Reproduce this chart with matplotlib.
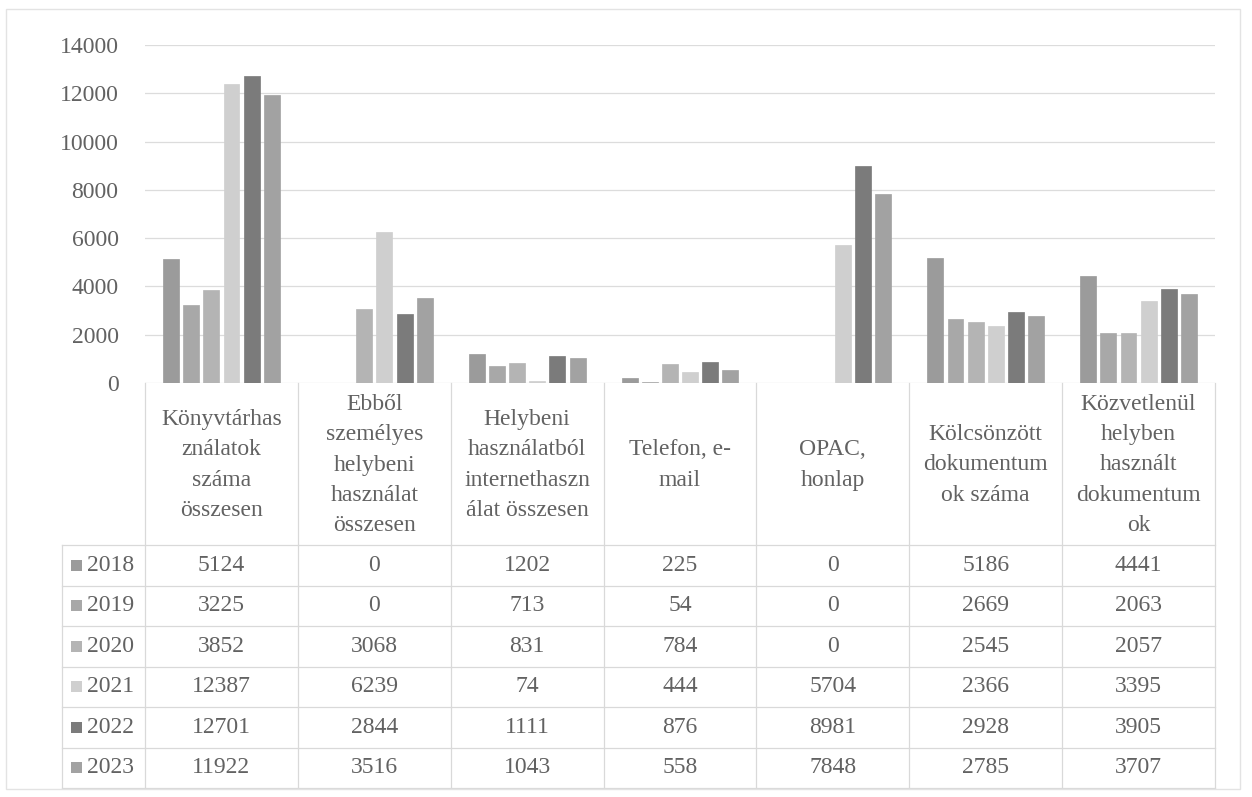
import matplotlib
matplotlib.use("Agg")
import matplotlib.pyplot as plt
from matplotlib.patches import Rectangle
from matplotlib.lines import Line2D

years = ["2018", "2019", "2020", "2021", "2022", "2023"]
categories = [
    "Könyvtárhasználatok száma összesen",
    "Ebből személyes helybeni használat összesen",
    "Helybeni használatból internethasználat összesen",
    "Telefon, e-mail",
    "OPAC, honlap",
    "Kölcsönzött dokumentumok száma",
    "Közvetlenül helyben használt dokumentumok",
]
header_labels = [
    "Könyvtárhas\nználatok\nszáma\nösszesen",
    "Ebből\nszemélyes\nhelybeni\nhasználat\nösszesen",
    "Helybeni\nhasználatból\ninternethaszn\nálat összesen",
    "Telefon, e-\nmail",
    "OPAC,\nhonlap",
    "Kölcsönzött\ndokumentum\nok száma",
    "Közvetlenül\nhelyben\nhasznált\ndokumentum\nok",
]
v2018 = [5124, 0, 1202, 225, 0, 5186, 4441]
v2019 = [3225, 0, 713, 54, 0, 2669, 2063]
v2020 = [3852, 3068, 831, 784, 0, 2545, 2057]
v2021 = [12387, 6239, 74, 444, 5704, 2366, 3395]
v2022 = [12701, 2844, 1111, 876, 8981, 2928, 3905]
v2023 = [11922, 3516, 1043, 558, 7848, 2785, 3707]
series = [v2018, v2019, v2020, v2021, v2022, v2023]
colors = ["#9b9b9b", "#a8a8a8", "#b4b4b4", "#cfcfcf", "#7b7b7b", "#a2a2a2"]
yticks = [0, 2000, 4000, 6000, 8000, 10000, 12000, 14000]

W, H = 1252, 797
fig = plt.figure(figsize=(W / 100, H / 100), dpi=100)
fig.patch.set_facecolor("white")

FONT = "Liberation Serif"
TXT = "#626262"
GRID = "#dcdcdc"
FS = 17

x0, x1 = 145, 1215
y_zero, y_top = 383, 45
ax = fig.add_axes([x0 / W, 1 - y_zero / H, (x1 - x0) / W, (y_zero - y_top) / H])
n = len(categories)
ax.set_xlim(0, n)
ax.set_ylim(0, 14000)
for s in ax.spines.values():
    s.set_visible(False)
ax.set_xticks([])
ax.set_yticks(yticks)
ax.set_yticklabels([str(t) for t in yticks], fontfamily=FONT, fontsize=FS, color=TXT)
ax.tick_params(axis="y", length=0, pad=19)
ax.grid(axis="y", color=GRID, linewidth=0.9)
ax.set_axisbelow(True)

step = 0.132
bw = 0.104
for j, (vals, c) in enumerate(zip(series, colors)):
    xs = [i + 0.5 + (j - 2.5) * step for i in range(n)]
    ax.bar(xs, vals, width=bw, color=c, edgecolor=c, linewidth=0.5, label=years[j])

# table axes
t_top, t_bot = 383, 788
tax = fig.add_axes([x0 / W, 1 - t_bot / H, (x1 - x0) / W, (t_bot - t_top) / H])
tax.set_xlim(0, n)
tax.set_ylim(t_bot - t_top, 0)
tax.axis("off")
colw = (x1 - x0) / n
lab_left = -(x0 - 62) / colw
header_h = 162
row_h = (t_bot - t_top - header_h) / len(years)

lc = "#d9d9d9"
for i in range(n + 1):
    tax.add_line(Line2D([i, i], [0, t_bot - t_top], color=lc, lw=0.9, clip_on=False))
tax.add_line(Line2D([lab_left, lab_left], [header_h, t_bot - t_top], color=lc, lw=0.9, clip_on=False))
for r in range(len(years) + 1):
    y = header_h + r * row_h
    tax.add_line(Line2D([lab_left, n], [y, y], color=lc, lw=0.9, clip_on=False))

for i, lab in enumerate(header_labels):
    tax.text(i + 0.5, 82, lab, ha="center", va="center", fontfamily=FONT,
             fontsize=FS, color=TXT, linespacing=1.58, clip_on=False)

for r, (yr, vals, c) in enumerate(zip(years, series, colors)):
    yc = header_h + (r + 0.5) * row_h
    for i, v in enumerate(vals):
        tax.text(i + 0.5, yc, str(v), ha="center", va="center", fontfamily=FONT,
                 fontsize=FS, color=TXT, clip_on=False)
    kx = lab_left + 9 / colw
    tax.add_patch(Rectangle((kx, yc - 5.5), 11 / colw, 11, facecolor=c, edgecolor="none", clip_on=False))
    tax.text(kx + 16 / colw, yc, yr, ha="left", va="center", fontfamily=FONT,
             fontsize=FS, color=TXT, clip_on=False)

fig.add_artist(Rectangle((6 / W, 8 / H), (1240 - 6) / W, (792 - 12) / H,
                         transform=fig.transFigure, facecolor="none",
                         edgecolor="#e3e3e3", lw=1))

fig.savefig("out.png", dpi=100, facecolor="white")
